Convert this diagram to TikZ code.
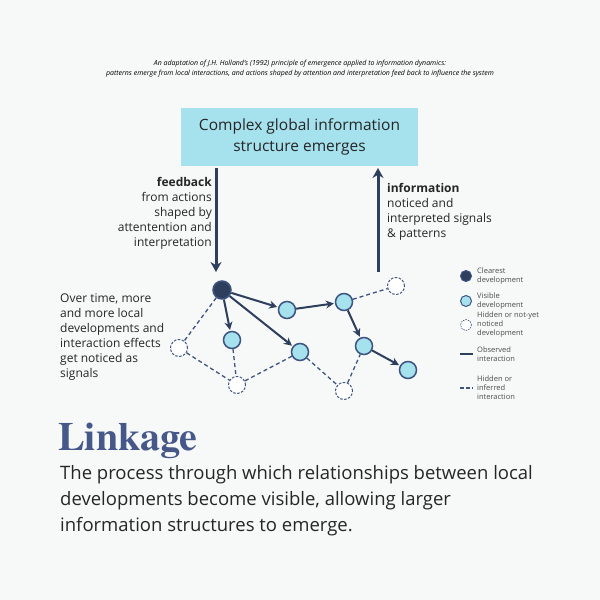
\documentclass[tikz,border=0pt]{standalone}
\usepackage{fontspec}
\setmainfont{Open Sans}
\newfontfamily\serifb{TeX Gyre Heros}
\usetikzlibrary{arrows.meta}
\definecolor{bg}{HTML}{F7F8F8}
\definecolor{navy}{HTML}{2E3F5E}
\definecolor{cyanf}{HTML}{A6E1EE}
\definecolor{edge}{HTML}{3D5480}
\definecolor{titlec}{HTML}{46588A}
\begin{document}
\begin{tikzpicture}[x=1pt,y=-1pt,
  vis/.style={circle,draw=edge,fill=cyanf,line width=1.5pt,minimum size=17pt,inner sep=0},
  hid/.style={circle,draw=edge,fill=white,dashed,dash pattern=on 2.5pt off 1.5pt,line width=1pt,minimum size=17pt,inner sep=0},
  clear/.style={circle,draw=edge,fill=navy,line width=1.5pt,minimum size=18pt,inner sep=0},
  obs/.style={draw=navy,line width=2pt,-{Stealth[length=8pt,width=8pt]},shorten >=1pt},
  inf/.style={draw=edge,line width=1.3pt,dash pattern=on 4pt off 3pt},
  txt/.style={font=\fontsize{12}{15}\selectfont,text=black!85,inner sep=0},
  leg/.style={font=\fontsize{7.5}{9}\selectfont,text=black!70,anchor=west,align=left,inner sep=0}]
\fill[bg] (0,0) rectangle (600,600);
\useasboundingbox (0,0) rectangle (600,600);
\node[font=\fontsize{7}{10}\selectfont\itshape,align=center] (hdr) at (300,69) {An adaptation of J.H. Holland's (1992) principle of emergence applied to information dynamics:\\patterns emerge from local interactions, and actions shaped by attention and interpretation feed back to influence the system};
\node[fill=cyanf,minimum width=237pt,minimum height=58pt,align=center,font=\fontsize{15.5}{21}\selectfont,text=black!85] (box) at (299.5,137) {Complex global information\\structure emerges};
\coordinate (fbtop) at (216,168);
\coordinate (infotop) at (378,168);
\node[clear] (c) at (222,290) {};
\node[vis] (a) at (287,310) {};
\node[vis] (b) at (232,340) {};
\node[vis] (d) at (300,352) {};
\node[vis] (e) at (344,302) {};
\node[vis] (f) at (364,346) {};
\node[vis] (g) at (408,370) {};
\node[hid] (h1) at (179,348) {};
\node[hid] (h2) at (237,385) {};
\node[hid] (h3) at (344,391) {};
\node[hid] (h4) at (396,286) {};
\coordinate (fbend) at (216,272);
\coordinate (infobot) at (378,272);
\draw[draw=navy,line width=3pt,-{Stealth[length=10pt,width=11pt]}] (fbtop) -- (fbend);
\draw[draw=navy,line width=3pt,-{Stealth[length=10pt,width=11pt]}] (infobot) -- (infotop);
\draw[inf] (c) -- (h1); \draw[inf] (h1) -- (h2); \draw[inf] (b) -- (h2);
\draw[inf] (h2) -- (d); \draw[inf] (d) -- (h3); \draw[inf] (h3) -- (f);
\draw[inf] (e) -- (h4);
\draw[obs] (c) -- (a); \draw[obs] (c) -- (b); \draw[obs] (c) -- (d);
\draw[obs] (a) -- (e); \draw[obs] (e) -- (f); \draw[obs] (f) -- (g);
\node[txt,align=right,anchor=north east] (fb) at (212,177) {\textbf{feedback}\\from actions\\shaped by\\attentention and\\interpretation};
\node[txt,align=left,anchor=north west] (inf) at (387,183) {\textbf{information}\\noticed and\\interpreted signals\\\& patterns};
\node[txt,align=left,anchor=north west] (ot) at (60,293) {Over time, more\\and more local\\developments and\\interaction effects\\get noticed as\\signals};
% legend
\node[circle,draw=edge,fill=navy,line width=1pt,minimum size=11pt,inner sep=0] (l1) at (466,276) {};
\node[leg] (t1) at (477,276) {Clearest\\development};
\node[circle,draw=edge,fill=cyanf,line width=1pt,minimum size=11pt,inner sep=0] (l2) at (466,301) {};
\node[leg] (t2) at (477,301) {Visible\\development};
\node[circle,draw=edge,fill=white,dashed,dash pattern=on 1.5pt off 1pt,line width=.6pt,minimum size=11pt,inner sep=0] (l3) at (466,325) {};
\node[leg] (t3) at (477,325) {Hidden or not-yet\\noticed\\development};
\coordinate (l4a) at (460,354); \coordinate (l4b) at (473,354);
\draw[navy,line width=1.5pt] (l4a) -- (l4b);
\node[leg] (t4) at (477,354) {Observed\\interaction};
\coordinate (l5a) at (460,388); \coordinate (l5b) at (473,388);
\draw[edge,line width=1.5pt,dash pattern=on 4pt off 2pt] (l5a) -- (l5b);
\node[leg] (t5) at (477,388) {Hidden or\\inferred\\interaction};
\node[anchor=west,inner sep=0,text=titlec,font=\fontsize{40}{40}\selectfont\bfseries\rmfamily\fontspec{TeX Gyre Termes}] (ti) at (58,441) {Linkage};
\node[anchor=north west,inner sep=0,align=left,font=\fontsize{18.5}{26}\selectfont,text=black!85] (desc) at (60,465) {The process through which relationships between local\\developments become visible, allowing larger\\information structures to emerge.};
\end{tikzpicture}
\end{document}
